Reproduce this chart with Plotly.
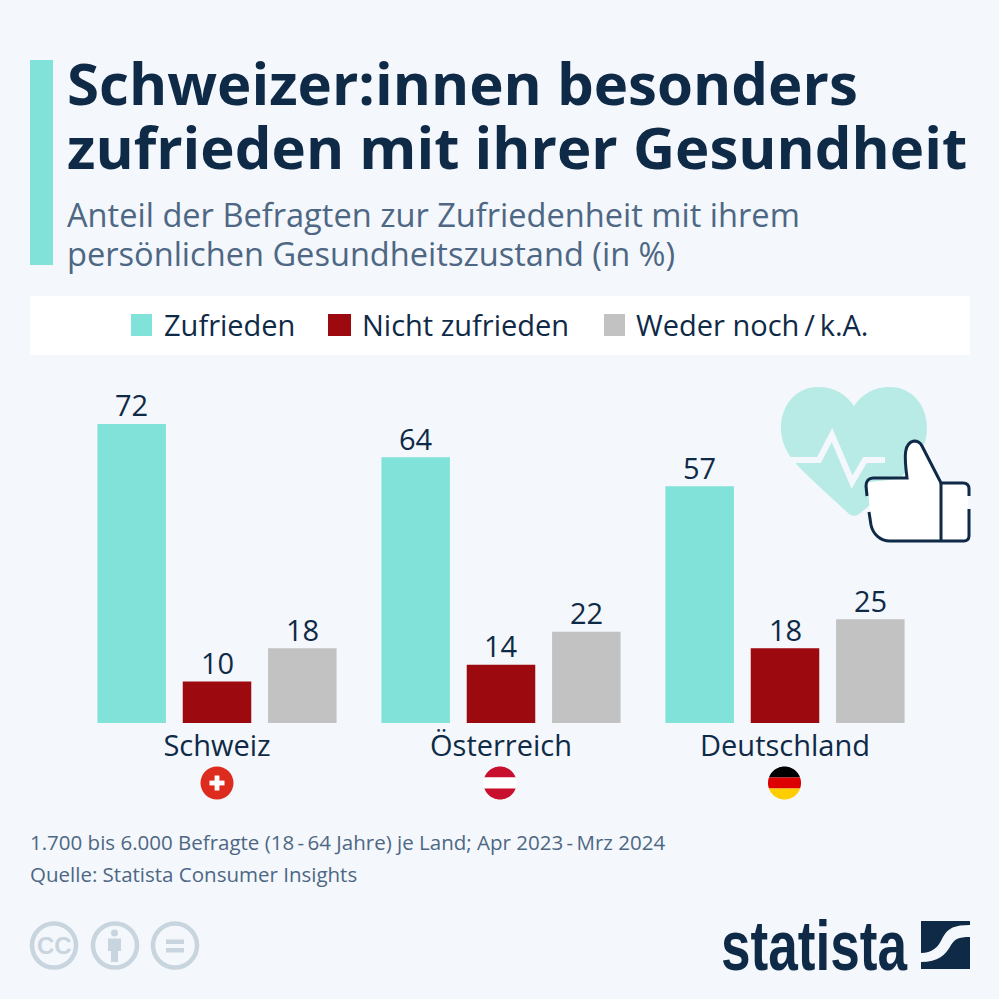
import re
import numpy as np
import plotly.graph_objects as go

# ---- data ----
countries = ["Schweiz", "Österreich", "Deutschland"]
series_names = ["Zufrieden", "Nicht zufrieden", "Weder noch\u2009/\u2009k.A."]
zufrieden = [72, 64, 57]
nicht_zufrieden = [10, 14, 18]
weder_noch = [18, 22, 25]

title_lines = ["Schweizer:innen besonders", "zufrieden mit ihrer Gesundheit"]
subtitle_lines = ["Anteil der Befragten zur Zufriedenheit mit ihrem",
                  "persönlichen Gesundheitszustand (in %)"]
footer_lines = ["1.700 bis 6.000 Befragte (18\u2009-\u200964 Jahre) je Land; Apr 2023\u2009-\u2009Mrz 2024",
                "Quelle: Statista Consumer Insights"]

# ---- style ----
BG = "#f4f7fb"
NAVY = "#0f2a47"
SLATE = "#4d6784"
TEAL = "#80e2d8"
RED = "#9c0a10"
GREY = "#c2c2c2"
HEART = "#b8ebe6"
CCGREY = "#c8d5de"
FONT = "Open Sans"
W = 999.0
BAR_PITCH = 85.3


def px(x):
    return x / W


def py(y):
    return 1 - y / W


def path(d):
    """Turn an SVG path written in page pixels into paper coordinates."""
    return re.sub(r"(-?[\d.]+),(-?[\d.]+)",
                  lambda m: f"{px(float(m[1])):.5f},{py(float(m[2])):.5f}", d)


shapes = []
annotations = []


def add_path(d, fill=None, line=None, width=0, layer="above"):
    shapes.append(dict(type="path", xref="paper", yref="paper", path=path(d),
                       fillcolor=fill or "rgba(0,0,0,0)", layer=layer,
                       line=dict(color=line or "rgba(0,0,0,0)", width=width)))


def add_rect(x0, y0, x1, y1, fill, layer="above"):
    shapes.append(dict(type="rect", xref="paper", yref="paper", x0=px(x0), x1=px(x1),
                       y0=py(y1), y1=py(y0), fillcolor=fill, layer=layer, line_width=0))


def add_circle(cx, cy, r, fill=None, line=None, width=0):
    shapes.append(dict(type="circle", xref="paper", yref="paper", x0=px(cx - r), x1=px(cx + r),
                       y0=py(cy + r), y1=py(cy - r), fillcolor=fill or "rgba(0,0,0,0)",
                       line=dict(color=line or "rgba(0,0,0,0)", width=width)))


def add_text(x, y, text, size, color, anchor="left", weight=None, family=FONT):
    annotations.append(dict(xref="paper", yref="paper", x=px(x), y=py(y), text=text,
                            showarrow=False, xanchor=anchor, yanchor="middle", align="left",
                            font=dict(size=size, color=color, family=family, weight=weight),
                            borderpad=0, borderwidth=0))


def band(cx, cy, r, y0, y1, fill):
    """Horizontal slice of a disc, y0/y1 relative to the centre."""
    a0, a1 = np.arcsin(np.clip([y0 / r, y1 / r], -1, 1))
    ang = np.linspace(a0, a1, 24)
    right = [(cx + r * np.cos(a), cy + r * np.sin(a)) for a in ang]
    left = [(cx - r * np.cos(a), cy + r * np.sin(a)) for a in ang[::-1]]
    pts = right + left
    add_path("M" + " L".join(f"{x:.2f},{y:.2f}" for x, y in pts) + " Z", fill=fill)


# header: each block is one text; its line gap is tightened after drawing (see post)
add_rect(30, 60, 53, 265, TEAL)
add_text(67, 82.5 + 0.65 * 58.2, "<br>".join(title_lines), 58.2, NAVY, weight=700)
add_text(67, 214 + 0.65 * 32.6, "<br>".join(subtitle_lines), 32.6, SLATE)

# legend
add_rect(30, 296, 970, 355, "#ffffff", layer="below")
for x0, x1, tx, name, col in [(131, 152, 163.5, series_names[0], TEAL),
                              (328, 351, 361.5, series_names[1], RED),
                              (604, 625, 636, series_names[2], GREY)]:
    add_rect(x0, 314, x1, 336, col)
    add_text(tx, 324.5, name, 29, NAVY)

# flags
r = 16.5
add_circle(217, 783, r, fill="#dd2c1e")
add_rect(214.6, 775.5, 219.4, 790.5, "#ffffff")
add_rect(209.5, 780.6, 224.5, 785.4, "#ffffff")
band(500, 783, r, -r, -5.5, "#c8102e")
band(500, 783, r, -5.5, 5.5, "#ffffff")
band(500, 783, r, 5.5, r, "#c8102e")
band(784.5, 783, r, -r, -5.5, "#000000")
band(784.5, 783, r, -5.5, 5.5, "#dd0000")
band(784.5, 783, r, 5.5, r, "#ffce00")

# heart
add_path("M854,406 C846,394 834,387 818,387 C796,387 781,405 781,428 C781,446 790,458 802,470 "
         "C816,484 834,500 848,513 C851,516 855,517 859,514 C873,503 888,490 903,475 "
         "C918,460 927,446 927,428 C927,405 912,387 890,387 C874,387 862,394 854,406 Z",
         fill=HEART)
add_path("M787,460 L819,460 L832,435 L852,482 L865,460 L885,460", line=BG, width=6)
# thumb
add_path("M867,478 C867,485 868,482 871,482 L907,478 C904,455 904,443 914,441 C918,441 920,442 922,446 "
         "L941,483 L965,483 C968,483 968,485 968,488 L968,536 C968,540 966,541 964,541 L890,541 "
         "C880,541 873,534 871,524 Z", fill="#ffffff")
add_path("M867,496 L866,486 C866,481 869,478 873,478 L907,478 C904,455 904,443 914,441 C918,441 920,442 922,446 "
         "L941,483 L963,483 C967,483 969,485 969,489 L969,496", line=NAVY, width=3)
add_path("M969,509 L969,536 C969,539 967,541 964,541 L890,541 C880,541 873,534 871,525 L869,512",
         line=NAVY, width=3)
add_path("M941,483 L941,541", line=NAVY, width=3)

# footer
add_text(30, 842, footer_lines[0], 20.5, SLATE)
add_text(30, 874, footer_lines[1], 20.5, SLATE)

# licence icons
for cx in (54, 115, 175):
    add_circle(cx, 945.5, 22, line=CCGREY, width=4.5)
add_text(54, 945.5, "<b>CC</b>", 24, CCGREY, anchor="center", family="Liberation Sans")
add_circle(114.5, 933, 3.5, fill=CCGREY)
add_path("M108,938.5 L121,938.5 L121,951 L118,951 L118,962 L111,962 L111,951 L108,951 Z", fill=CCGREY)
add_rect(166, 939.5, 184, 944, CCGREY)
add_rect(166, 948, 184, 952.5, CCGREY)

# logo
add_text(721, 946, "statista", 70, NAVY, anchor="left", weight=700, family="Liberation Sans")
add_rect(921, 921, 970, 969, NAVY)
add_path("M921,953 C932,953 938,948 943,937 C948,928 955,925 970,925 L970,937 "
         "C958,937 955,939 951,945 C946,955 938,962 921,962 Z", fill=BG)

# ---- chart ----
traces = [(series_names[0], zufrieden, TEAL),
          (series_names[1], nicht_zufrieden, RED),
          (series_names[2], weder_noch, GREY)]
fig = go.Figure()
for k, (name, vals, col) in enumerate(traces):
    fig.add_bar(name=name, x=countries, y=vals, marker_color=col, marker_line_width=0,
                showlegend=False, hoverinfo="x+y+name")
    for c, v in zip(countries, vals):
        annotations.append(dict(xref="x", yref="y", x=c, y=v, text=str(v), showarrow=False,
                                xshift=(k - 1) * BAR_PITCH, yshift=19, yanchor="middle",
                                font=dict(size=29, color=NAVY, family=FONT)))

fig.update_layout(
    width=999, height=999, margin=dict(l=0, r=0, t=0, b=0, pad=0),
    paper_bgcolor=BG, plot_bgcolor="rgba(0,0,0,0)",
    barmode="group", bargap=0.0986, bargroupgap=0.197,
    xaxis=dict(domain=[px(75), px(927)], showgrid=False, zeroline=False, showline=False,
               ticks="", ticklabelstandoff=3, automargin=False,
               tickfont=dict(size=29, color=NAVY, family=FONT)),
    yaxis=dict(domain=[py(723), py(370)], range=[0, 85], visible=False, automargin=False),
    shapes=shapes, annotations=annotations, font=dict(family=FONT),
)
# the logotype is a condensed face: squeeze the real text to its width;
# the two header blocks are set tighter than plotly's fixed 1.3 line spacing
post = """
document.body.style.margin='0';
document.querySelectorAll('.annotation-text').forEach(function(t){
  var s=t.textContent;
  if(s==='statista'){
    t.setAttribute('textLength','186');
    t.setAttribute('lengthAdjust','spacingAndGlyphs');
  }
  var gap = s.indexOf('Schweizer')===0 ? 64 : (s.indexOf('Anteil')===0 ? 38.5 : 0);
  if(gap){
    var l=t.querySelectorAll('tspan.line');
    if(l.length>1){ l[1].setAttribute('dy', gap+'px'); }
  }
});
"""
fig.write_html("out.html", config=dict(displayModeBar=False), post_script=post)
